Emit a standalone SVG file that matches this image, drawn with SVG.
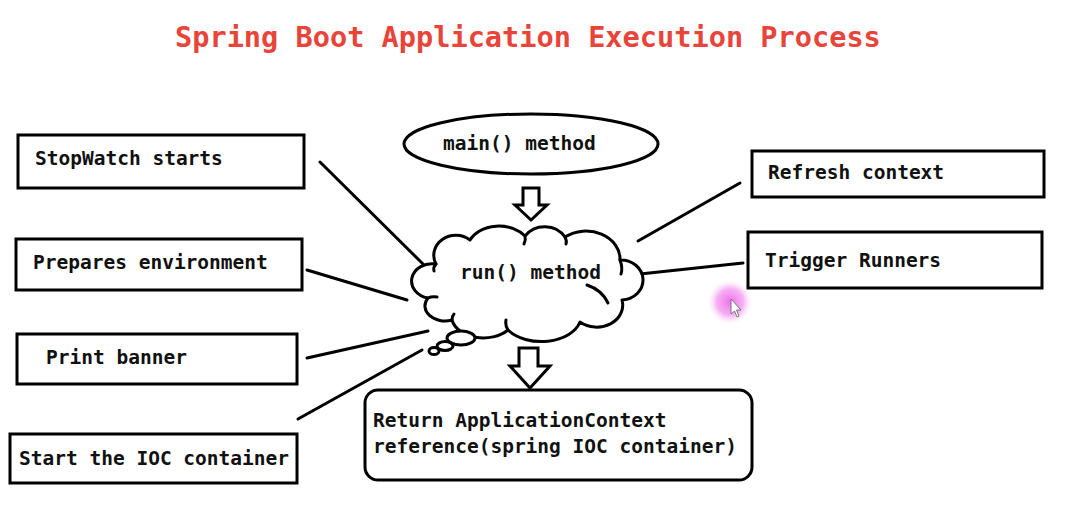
<svg xmlns="http://www.w3.org/2000/svg" width="1068" height="521" viewBox="0 0 1068 521">
<defs>
<style>
.box{fill:#fff;stroke:#000;stroke-width:3}
.t{font-family:"DejaVu Sans Mono","Liberation Mono",monospace;font-size:19.5px;font-weight:bold;fill:#111}
.ln{stroke:#000;stroke-width:3;fill:none;stroke-linecap:round}
.arr{fill:#fff;stroke:#000;stroke-width:3;stroke-linejoin:miter}
.title{font-family:"DejaVu Sans Mono","Liberation Mono",monospace;font-size:28.6px;font-weight:bold;fill:#e8443a}
</style>
<radialGradient id="glow">
<stop offset="0" stop-color="#f070ee" stop-opacity="1"/>
<stop offset="0.6" stop-color="#f49cf0" stop-opacity="0.8"/>
<stop offset="1" stop-color="#fbd6f8" stop-opacity="0"/>
</radialGradient>
</defs>
<rect width="1068" height="521" fill="#fff"/>
<text class="title" x="175" y="47">Spring Boot Application Execution Process</text>

<g id="connectors">
<line class="ln" x1="320" y1="162" x2="423" y2="264"/>
<line class="ln" x1="307" y1="270" x2="407" y2="300"/>
<line class="ln" x1="307" y1="358" x2="428" y2="331"/>
<line class="ln" x1="298" y1="419" x2="422" y2="350"/>
<line class="ln" x1="638" y1="241" x2="740" y2="183"/>
<line class="ln" x1="640" y1="274" x2="743" y2="263"/>
<path class="arr" d="M523,188 H539 V205 H547 L531,220 L515,205 H523 Z"/>
<path class="arr" d="M519,348 H538 V366 H550 L530,388 L510,366 H519 Z"/>
</g>

<g id="main">
<ellipse cx="531" cy="144" rx="127" ry="30" fill="#fff" stroke="#000" stroke-width="3"/>
<text class="t" x="443" y="150">main() method</text>
</g>

<g id="run">
<path d="M428,298 A20,17 0 0 1 436,264 A22,20 0 0 1 470,240 A32,24 0 0 1 525,236 A24,22 0 0 1 565,237 A34,28 0 0 1 620,260 A22,20 0 0 1 622,300 A26,22 0 0 1 580,322 A40,26 0 0 1 508,330 A32,22 0 0 1 452,320 A20,15 0 0 1 428,298 Z" fill="#fff" stroke="#000" stroke-width="3" stroke-linejoin="round"/>
<path class="ln" d="M434,271 Q433,267 436,264"/>
<path class="ln" d="M428,298 Q432,296 437,297"/>
<path class="ln" d="M452,320 Q452,316 454,314"/>
<path class="ln" d="M508,330 Q505,326 506,320"/>
<path class="ln" d="M565,237 Q567,241 566,244"/>
<path class="ln" d="M525,236 Q526,240 524,244"/>
<path class="ln" d="M587,285 Q602,290 608,303"/>
<path class="ln" d="M620,260 Q623,268 621,274"/>
<ellipse cx="461" cy="338" rx="14" ry="7" fill="#fff" stroke="#000" stroke-width="3"/>
<ellipse cx="445" cy="346" rx="8" ry="4.5" fill="#fff" stroke="#000" stroke-width="3"/>
<ellipse cx="434" cy="351" rx="5" ry="3.5" fill="#fff" stroke="#000" stroke-width="3"/>
<text class="t" x="460" y="279">run() method</text>
</g>

<g id="stopwatch">
<rect class="box" x="18" y="135" width="286" height="53"/>
<text class="t" x="35" y="165">StopWatch starts</text>
</g>
<g id="prepares">
<rect class="box" x="16" y="239" width="286" height="51"/>
<text class="t" x="33" y="269">Prepares environment</text>
</g>
<g id="banner">
<rect class="box" x="17" y="334" width="280" height="50"/>
<text class="t" x="46" y="364">Print banner</text>
</g>
<g id="ioc">
<rect class="box" x="10" y="434" width="287" height="49"/>
<text class="t" x="19" y="465">Start the IOC container</text>
</g>
<g id="refresh">
<rect class="box" x="752" y="151" width="292" height="46"/>
<text class="t" x="768" y="179">Refresh context</text>
</g>
<g id="runners">
<rect class="box" x="748" y="232" width="294" height="56"/>
<text class="t" x="765" y="267">Trigger Runners</text>
</g>
<g id="return">
<rect class="box" x="365" y="390" width="387" height="90" rx="13"/>
<text class="t" x="373" y="427">Return ApplicationContext</text>
<text class="t" x="373" y="453">reference(spring IOC container)</text>
</g>

<g id="cursor">
<circle cx="730" cy="302" r="22" fill="url(#glow)"/>
<path d="M731,299 V314 L734.5,311 L737,317 L739,316 L736.5,310 L741,310 Z" fill="#fff" stroke="#777" stroke-width="1"/>
</g>
</svg>
